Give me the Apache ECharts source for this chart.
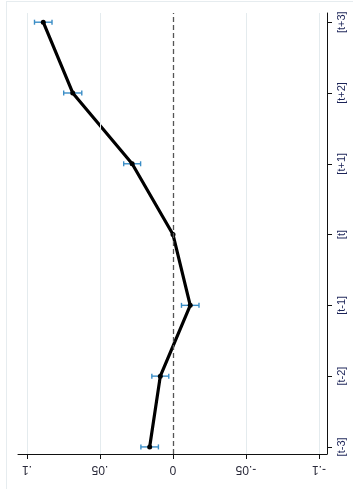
<!DOCTYPE html>
<html>
<head>
<meta charset="utf-8">
<script src="https://cdn.jsdelivr.net/npm/echarts@6/dist/echarts.min.js"></script>
<style>
html,body{margin:0;padding:0;background:#fff;}
#chart{width:353px;height:489px;}
</style>
</head>
<body>
<div id="chart"></div>
<script>
// Event-time categories, bottom to top
const periods = ['[t-3]', '[t-2]', '[t-1]', '[t]', '[t+1]', '[t+2]', '[t+3]'];
// Point estimates
const coef = [0.016, 0.0087, -0.0118, 0, 0.028, 0.0687, 0.0889];
// Confidence interval bounds
const ciLow = [0.010, 0.0029, -0.0178, 0, 0.0222, 0.0625, 0.0829];
const ciHigh = [0.022, 0.0145, -0.0058, 0, 0.0338, 0.0749, 0.0949];
// Value-axis ticks and gridline positions
const valueTicks = [-0.1, -0.05, 0, 0.05, 0.1];
const gridValues = [-0.1, -0.05, 0.05, 0.1];

function fmtVal(v) {
  if (Math.abs(v) < 1e-12) return '0';
  const s = String(Math.abs(+v.toFixed(4))).replace(/^0/, '');
  return (v < 0 ? '-' : '') + s;
}

const chart = echarts.init(document.getElementById('chart'));
const idx = periods.map((_, i) => i - 3);

chart.setOption({
  animation: false,
  backgroundColor: '#fff',
  grid: { left: 18, right: 26, top: 13, bottom: 35 },
  graphic: [
    { type: 'line', shape: { x1: 6, y1: 1.5, x2: 353, y2: 1.5 }, style: { stroke: '#e6ecef', lineWidth: 1 }, silent: true },
    { type: 'line', shape: { x1: 6.5, y1: 1.5, x2: 6.5, y2: 489 }, style: { stroke: '#e6ecef', lineWidth: 1 }, silent: true }
  ],
  xAxis: {
    type: 'value',
    inverse: true,
    min: -0.1055,
    max: 0.1062,
    axisLine: { show: true, onZero: false, lineStyle: { color: '#111', width: 1 } },
    axisTick: { show: true, length: 5, customValues: valueTicks, lineStyle: { color: '#111' } },
    axisLabel: {
      customValues: valueTicks,
      rotate: 180,
      margin: 9,
      color: '#2a2a3a',
      fontFamily: 'Liberation Sans',
      fontSize: 12,
      formatter: fmtVal
    },
    splitLine: { show: false }
  },
  yAxis: {
    type: 'value',
    position: 'right',
    min: -3.1,
    max: 3.13,
    axisLine: { show: true, onZero: false, lineStyle: { color: '#111', width: 1 } },
    axisTick: { show: true, length: 5, customValues: idx, lineStyle: { color: '#111' } },
    axisLabel: {
      customValues: idx,
      rotate: 90,
      margin: 9,
      color: '#1c2458',
      fontFamily: 'Liberation Sans',
      fontSize: 11,
      formatter: v => periods[Math.round(v) + 3]
    },
    splitLine: { show: false }
  },
  series: [
    {
      // vertical gridlines and the zero reference line
      type: 'line',
      data: [],
      silent: true,
      markLine: {
        silent: true,
        symbol: 'none',
        label: { show: false },
        data: gridValues.map(v => ({ xAxis: v, lineStyle: { color: '#e4ebee', width: 1, type: 'solid' } }))
          .concat([{ xAxis: 0, lineStyle: { color: '#555', width: 1.3, type: [5, 3] } }])
      },
      z: 1
    },
    {
      type: 'custom',
      z: 2,
      data: periods.map((_, i) => [ciLow[i], ciHigh[i], i - 3]),
      encode: { x: [0, 1], y: 2 },
      renderItem: function (params, api) {
        const p1 = api.coord([api.value(0), api.value(2)]);
        const p2 = api.coord([api.value(1), api.value(2)]);
        const cap = 2.5;
        const st = { stroke: '#3a8dc6', lineWidth: 1.4 };
        return {
          type: 'group',
          children: [
            { type: 'line', shape: { x1: p1[0], y1: p1[1], x2: p2[0], y2: p2[1] }, style: st },
            { type: 'line', shape: { x1: p1[0], y1: p1[1] - cap, x2: p1[0], y2: p1[1] + cap }, style: st },
            { type: 'line', shape: { x1: p2[0], y1: p2[1] - cap, x2: p2[0], y2: p2[1] + cap }, style: st }
          ]
        };
      }
    },
    {
      type: 'line',
      z: 3,
      data: periods.map((_, i) => [coef[i], i - 3]),
      lineStyle: { color: '#000', width: 3.2 },
      symbol: 'circle',
      symbolSize: 5,
      itemStyle: { color: '#000' }
    }
  ]
});
</script>
</body>
</html>
